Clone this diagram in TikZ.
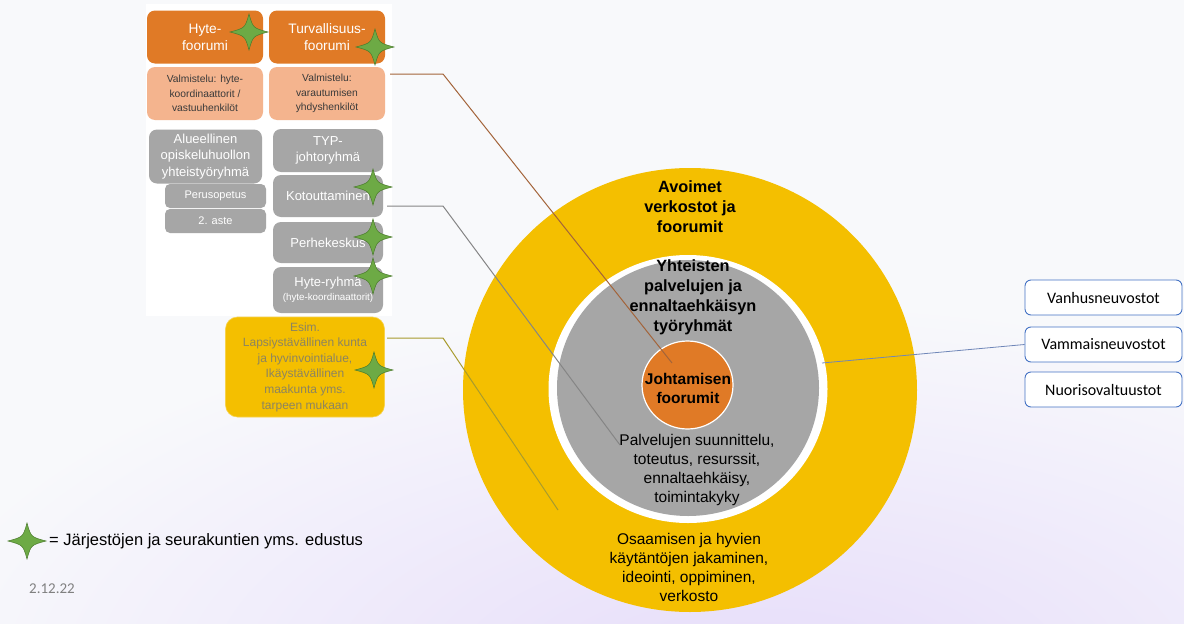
\documentclass[tikz,border=0pt]{standalone}
\usepackage{fontspec}
\setmainfont{Liberation Sans}
\newfontfamily\calfont{Carlito}
\definecolor{bg}{HTML}{F8F9FB}
\definecolor{lav}{HTML}{E6DCFA}
\definecolor{orng}{HTML}{E07A26}
\definecolor{salm}{HTML}{F4B48E}
\definecolor{gbox}{HTML}{A6A6A6}
\definecolor{ylw}{HTML}{F4BF00}
\definecolor{ytext}{HTML}{8C8460}
\definecolor{stfill}{HTML}{6DAA45}
\definecolor{stline}{HTML}{4A7A2C}
\definecolor{lbrown}{HTML}{A3643A}
\definecolor{lgray}{HTML}{858585}
\definecolor{lolive}{HTML}{A89B2E}
\definecolor{lblue}{HTML}{6F86B8}
\definecolor{bblue}{HTML}{4472C4}
\definecolor{dtext}{HTML}{3A3A3A}
\tikzset{
  box/.style={rounded corners=8pt, align=center, inner sep=1pt, minimum width=116pt, minimum height=53pt},
  obox/.style={box, fill=orng, text=white, font=\fontsize{13.7}{17}\selectfont},
  sbox/.style={box, fill=salm, text=dtext, font=\fontsize{10.3}{14.5}\selectfont},
  gboxs/.style={box, fill=gbox, text=white, font=\fontsize{13}{16.5}\selectfont},
  rbox/.style={draw=bblue, line width=0.9pt, rounded corners=6pt, fill=white, minimum width=157pt, minimum height=35pt, font=\calfont\fontsize{16}{18}\selectfont, inner sep=1pt},
  conn/.style={line width=1pt},
  gstar/.pic={
    \filldraw[fill=stfill, draw=stline, line width=0.5pt]
      (-19,0) .. controls (-4,-4) .. (0,-18) .. controls (4,-4) .. (19,0)
      .. controls (4,4) .. (0,18) .. controls (-4,4) .. (-19,0) -- cycle;
  },
  ctext/.style={align=center, inner sep=0pt, font=\fontsize{15.5}{19}\selectfont},
  btext/.style={align=center, inner sep=0pt, font=\bfseries\fontsize{16.3}{20}\selectfont},
}
\begin{document}
\begin{tikzpicture}[x=1pt,y=-1pt]
\useasboundingbox (0,0) rectangle (1184,624);
\fill[bg] (0,0) rectangle (1184,624);
\begin{scope}
\clip (0,0) rectangle (1184,624);
\shade[inner color=lav, outer color=bg] (-100,300) rectangle (1620,1060);
\end{scope}
% left white panel
\fill[white] (146,4) rectangle (392,316);

% circles
\fill[ylw] (690,390) ellipse (227pt and 222pt);
\fill[white] (688,389) ellipse (139.5pt and 134pt);
\fill[gbox] (688,388) ellipse (131pt and 128pt);
\filldraw[fill=orng, draw=white, line width=1.2pt] (687.5,385) ellipse (45.5pt and 44pt);

% left boxes
\node[obox] (hyte) at (205,37) {Hyte-\\foorumi};
\node[obox] (turv) at (327,37) {Turvallisuus-\\foorumi};
\node[sbox] (valm1) at (205,93.5) {Valmistelu: hyte-\\koordinaattorit /\\vastuuhenkilöt};
\node[sbox] (valm2) at (327,93.5) {Valmistelu:\\varautumisen\\yhdyshenkilöt};
\node[gboxs, minimum width=113pt, minimum height=54pt] (alue) at (205.5,156.5) {Alueellinen\\opiskeluhuollon\\yhteistyöryhmä};
\node[gboxs, minimum width=101pt, minimum height=24pt, rounded corners=5pt, font=\fontsize{11}{13}\selectfont] (peru) at (215.5,196) {Perusopetus};
\node[gboxs, minimum width=101pt, minimum height=24pt, rounded corners=5pt, font=\fontsize{11}{13}\selectfont] (aste) at (215.5,221) {2. aste};
\node[gboxs, minimum width=110pt, minimum height=43pt] (typ) at (328,150.5) {TYP-\\johtoryhmä};
\node[gboxs, minimum width=110pt, minimum height=42pt] (koto) at (328,196) {Kotouttaminen};
\node[gboxs, minimum width=110pt, minimum height=41pt] (perhe) at (328,242.5) {Perhekeskus};
\node[gboxs, minimum width=110pt, minimum height=46pt] (hyter) at (328,290) {Hyte-ryhmä\\[-2pt]{\fontsize{9.8}{11}\selectfont(hyte-koordinaattorit)}};
\node[box, fill=ylw, draw=ylw!70!white, line width=0.6pt, minimum width=159pt, minimum height=100pt, rounded corners=12pt, text=ytext, font=\fontsize{12}{15.6}\selectfont] (esim) at (305,367) {Esim.\\Lapsiystävällinen kunta\\ja hyvinvointialue,\\Ikäystävällinen\\maakunta yms.\\tarpeen mukaan};

% right boxes
\node[rbox] (vanh) at (1103.5,297.5) {Vanhusneuvostot};
\node[rbox] (vamm) at (1103.5,344.5) {Vammaisneuvostot};
\node[rbox] (nuor) at (1103.5,389.5) {Nuorisovaltuustot};

% connector coordinates
\coordinate (a0) at (390,74);
\coordinate (a1) at (443,74);
\coordinate (a2) at (672,363);
\coordinate (b0) at (387,206);
\coordinate (b1) at (443,206);
\coordinate (b2) at (620,445);
\coordinate (c0) at (387,338);
\coordinate (c1) at (443,338);
\coordinate (c2) at (558,510);
\coordinate (d0) at (822,363);

% connectors
\draw[conn, lbrown] (a0) -- (a1) -- (a2);
\draw[conn, lgray] (b0) -- (b1) -- (b2);
\draw[conn, lolive] (c0) -- (c1) -- (c2);
\draw[conn, lblue, line width=0.8pt] (d0) -- (vamm.west);

% circle texts
\node[btext] (avo) at (690,207) {Avoimet\\verkostot ja\\foorumit};
\node[btext] (yht) at (693,297) {Yhteisten\\palvelujen ja\\ennaltaehkäisyn\\työryhmät};
\node[btext, font=\bfseries\fontsize{15.5}{19}\selectfont] (joht) at (688,388) {Johtamisen\\foorumit};
\node[ctext] (palv) at (697,470) {Palvelujen suunnittelu,\\toteutus, resurssit,\\ennaltaehkäisy,\\toimintakyky};
\node[ctext] (osaa) at (689,567) {Osaamisen ja hyvien\\käytäntöjen jakaminen,\\ideointi, oppiminen,\\verkosto};

% stars
\pic at (249,32) {gstar};
\pic at (375,47) {gstar};
\pic at (373,187) {gstar};
\pic at (373,237) {gstar};
\pic at (373,276) {gstar};
\pic at (374,370) {gstar};
\pic at (27,541) {gstar};

% legend and date
\node[anchor=west, inner sep=0pt, font=\fontsize{16.5}{19}\selectfont] (leg) at (49,541) {= Järjestöjen ja seurakuntien yms. edustus};
\node[anchor=west, inner sep=0pt, text=black!50, font=\calfont\fontsize{15}{17}\selectfont] (date) at (29,589) {2.12.22};
\end{tikzpicture}
\end{document}
